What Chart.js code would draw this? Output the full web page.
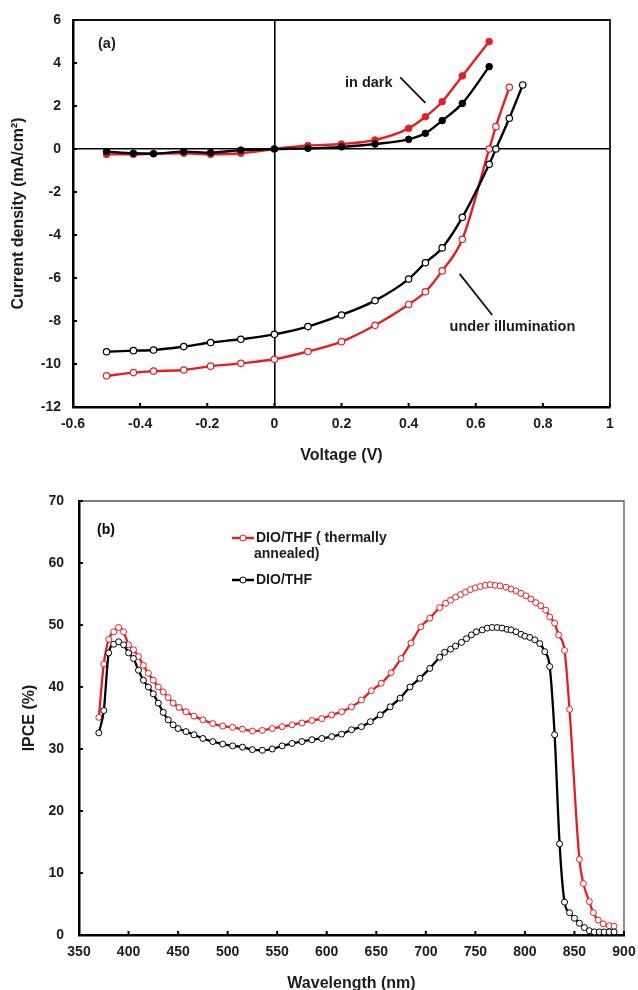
<!DOCTYPE html>
<html>
<head>
<meta charset="utf-8">
<script src="https://cdn.jsdelivr.net/npm/chart.js@4.4.1/dist/chart.umd.min.js"></script>
<style>
  html, body { margin: 0; padding: 0; background: #fff; overflow: hidden; }
  canvas { position: absolute; left: 0; }
  #jvChart { top: 0; }
  #ipceChart { top: 470px; }
</style>
</head>
<body>
<canvas id="jvChart" width="638" height="470"></canvas>
<canvas id="ipceChart" width="638" height="530"></canvas>
<script>
// ---- (a) current density vs voltage ----
const voltageDark = [-0.5, -0.42, -0.36, -0.27, -0.19, -0.1, 0, 0.1, 0.2, 0.3, 0.4, 0.45, 0.5, 0.56, 0.64];
const darkAnnealed = [-0.25, -0.25, -0.22, -0.2, -0.25, -0.2, 0, 0.16, 0.23, 0.42, 0.96, 1.5, 2.2, 3.4, 5.0];
const darkAsCast = [-0.12, -0.2, -0.22, -0.12, -0.17, -0.05, 0, 0.03, 0.1, 0.23, 0.45, 0.73, 1.32, 2.12, 3.83];

const voltageLitAnnealed = [-0.5, -0.42, -0.36, -0.27, -0.19, -0.1, 0, 0.1, 0.2, 0.3, 0.4, 0.45, 0.5, 0.56, 0.64, 0.66, 0.7];
const litAnnealed = [-10.55, -10.4, -10.33, -10.28, -10.1, -9.97, -9.78, -9.42, -8.96, -8.2, -7.23, -6.64, -5.67, -4.2, 0, 1.04, 2.87];
const voltageLitAsCast = [-0.5, -0.42, -0.36, -0.27, -0.19, -0.1, 0, 0.1, 0.2, 0.3, 0.4, 0.45, 0.5, 0.56, 0.64, 0.66, 0.7, 0.74];
const litAsCast = [-9.43, -9.38, -9.35, -9.19, -9.0, -8.85, -8.62, -8.26, -7.72, -7.05, -6.05, -5.29, -4.6, -3.18, -0.71, 0, 1.43, 2.98];

// ---- (b) IPCE spectra ----
const wlAnnealed = [370, 375, 380, 385, 390, 395, 400, 405, 410, 415, 420, 425, 430, 435, 440, 445, 451, 458, 466, 475,
  485, 495, 505, 515, 525, 535, 545, 555, 565, 575, 585, 595, 605, 615, 625, 635, 645, 655, 665, 675,
  685, 695, 704, 714, 720, 725, 730, 735, 740, 745, 750, 755, 760, 765, 770, 775, 781, 786, 791, 796,
  801, 806, 811, 816, 821, 825, 830, 834, 840, 845, 855, 859, 865, 869, 874, 879, 885, 890];
const ipceAnnealed = [35.1, 43.7, 47.7, 48.9, 49.6, 48.9, 46.8, 46.0, 44.9, 43.5, 42.2, 41.1, 40.0, 39.2, 38.3, 37.4, 36.7, 36.0, 35.3, 34.7,
  34.1, 33.7, 33.5, 33.2, 32.9, 33.0, 33.3, 33.6, 33.9, 34.2, 34.6, 34.9, 35.5, 36.0, 36.8, 37.9, 39.4, 40.6, 42.3, 44.6,
  47.1, 49.7, 51.1, 52.8, 53.5, 54.0, 54.5, 54.9, 55.3, 55.7, 56.0, 56.2, 56.4, 56.5, 56.4, 56.3, 56.1, 55.8, 55.5, 55.1,
  54.7, 54.2, 53.6, 53.1, 52.4, 51.3, 50.3, 48.4, 45.9, 36.4, 12.2, 8.3, 5.4, 3.6, 2.4, 1.8, 1.5, 1.4];

const wlAsCast = [370, 375, 380, 385, 390, 395, 400, 405, 410, 415, 420, 425, 430, 435, 440, 445, 450, 458, 466, 475,
  485, 495, 505, 515, 525, 535, 545, 555, 565, 575, 585, 595, 605, 615, 625, 635, 644, 654, 664, 674,
  684, 694, 704, 714, 719, 725, 730, 736, 741, 746, 751, 757, 762, 767, 772, 777, 782, 786, 791, 796,
  800, 805, 810, 815, 820, 825, 830, 835, 840, 845, 850, 855, 860, 865, 870, 875, 880, 885, 890];
const ipceAsCast = [32.6, 36.2, 45.5, 46.9, 47.3, 46.8, 45.5, 44.6, 42.7, 41.1, 40.0, 38.9, 37.4, 35.9, 34.7, 33.9, 33.3, 32.8, 32.3, 31.7,
  31.2, 30.8, 30.5, 30.3, 29.9, 29.8, 30.0, 30.5, 30.9, 31.2, 31.5, 31.7, 32.0, 32.4, 33.1, 33.6, 34.4, 35.5, 36.8, 38.2,
  40.0, 41.4, 43.0, 44.8, 45.6, 46.1, 46.6, 47.2, 47.8, 48.4, 48.9, 49.2, 49.5, 49.6, 49.6, 49.5, 49.3, 49.2, 48.9, 48.5,
  48.2, 48.0, 47.6, 47.0, 45.7, 43.3, 32.3, 14.7, 5.3, 3.6, 2.7, 1.9, 1.2, 0.7, 0.5, 0.5, 0.5, 0.5, 0.5];

const RED = '#e41e25';
const BLACK = '#000000';
const TEXT = '#1c1c1c';
const FONT = 'Arial, "Liberation Sans", sans-serif';

const toPoints = (xs, ys) => xs.map((x, i) => ({ x, y: ys[i] }));

// box on top/right + small inward tick marks
const frameTicks = {
  id: 'frameTicks',
  beforeDatasetsDraw(chart, args, opts) {
    const { ctx, chartArea: a, scales } = chart;
    ctx.save();
    ctx.strokeStyle = opts.boxColor;
    ctx.lineWidth = opts.boxWidth;
    ctx.beginPath();
    ctx.moveTo(a.left, a.top);
    ctx.lineTo(a.right, a.top);
    ctx.lineTo(a.right, a.bottom);
    ctx.stroke();

    ctx.strokeStyle = '#000';
    ctx.lineWidth = 2;
    ctx.beginPath();
    scales.x.ticks.forEach(t => {
      const px = scales.x.getPixelForValue(t.value);
      ctx.moveTo(px, a.bottom);
      ctx.lineTo(px, a.bottom - 4);
    });
    scales.y.ticks.forEach(t => {
      const py = scales.y.getPixelForValue(t.value);
      ctx.moveTo(a.left, py);
      ctx.lineTo(a.left + 4, py);
    });
    ctx.stroke();
    ctx.restore();
  }
};

// text labels with pointer lines for chart (a)
const jvNotes = {
  id: 'jvNotes',
  afterDraw(chart) {
    const { ctx, chartArea: a, scales: { x, y } } = chart;
    ctx.save();
    ctx.fillStyle = TEXT;
    ctx.font = 'bold 14.5px ' + FONT;
    ctx.textBaseline = 'middle';
    ctx.textAlign = 'left';
    ctx.fillText('(a)', a.left + 25, a.top + 24);

    ctx.textAlign = 'right';
    ctx.fillText('in dark', x.getPixelForValue(0.352), y.getPixelForValue(3.05));
    ctx.textAlign = 'left';
    ctx.fillText('under illumination', x.getPixelForValue(0.522), y.getPixelForValue(-8.29));

    ctx.strokeStyle = '#111';
    ctx.lineWidth = 1.8;
    ctx.beginPath();
    ctx.moveTo(x.getPixelForValue(0.375), y.getPixelForValue(3.33));
    ctx.lineTo(x.getPixelForValue(0.45), y.getPixelForValue(2.15));
    ctx.moveTo(x.getPixelForValue(0.552), y.getPixelForValue(-5.81));
    ctx.lineTo(x.getPixelForValue(0.649), y.getPixelForValue(-7.72));
    ctx.stroke();
    ctx.restore();
  }
};

// legend drawn inside the plot area for chart (b)
const ipceLegend = {
  id: 'ipceLegend',
  afterDraw(chart) {
    const { ctx, chartArea: a } = chart;
    const rows = [
      { color: RED, lines: ['DIO/THF ( thermally', 'annealed)'], y: a.top + 37 },
      { color: BLACK, lines: ['DIO/THF'], y: a.top + 79 }
    ];
    ctx.save();
    ctx.font = 'bold 14px ' + FONT;
    ctx.textBaseline = 'middle';
    ctx.textAlign = 'left';
    ctx.fillText('(b)', a.left + 18, a.top + 29);
    rows.forEach(r => {
      const x0 = a.left + 153;
      ctx.strokeStyle = r.color;
      ctx.lineWidth = 2.5;
      ctx.beginPath();
      ctx.moveTo(x0, r.y);
      ctx.lineTo(x0 + 22, r.y);
      ctx.stroke();
      ctx.fillStyle = '#fff';
      ctx.lineWidth = 1;
      ctx.beginPath();
      ctx.arc(x0 + 11, r.y, 3, 0, Math.PI * 2);
      ctx.fill();
      ctx.stroke();
      ctx.fillStyle = TEXT;
      r.lines.forEach((t, i) => ctx.fillText(t, x0 + (i === 0 ? 24 : 22), r.y + i * 16));
    });
    ctx.restore();
  }
};

const tickFont = { family: FONT, size: 14, weight: 'bold' };
const titleFont = { family: FONT, size: 16, weight: 'bold' };

const isZero = v => Math.abs(v) < 1e-9;

new Chart(document.getElementById('jvChart'), {
  type: 'line',
  data: {
    datasets: [
      {
        data: toPoints(voltageDark, darkAsCast),
        borderColor: BLACK, backgroundColor: BLACK,
        pointRadius: 3.3, pointBorderWidth: 1, borderWidth: 2.4
      },
      {
        data: toPoints(voltageDark, darkAnnealed),
        borderColor: RED, backgroundColor: RED,
        pointRadius: 3.3, pointBorderWidth: 1, borderWidth: 2.4
      },
      {
        data: toPoints(voltageLitAsCast, litAsCast),
        borderColor: BLACK, backgroundColor: '#fff',
        pointRadius: 3.2, pointBorderWidth: 1.2, borderWidth: 2.4
      },
      {
        data: toPoints(voltageLitAnnealed, litAnnealed),
        borderColor: RED, backgroundColor: '#fff',
        pointRadius: 3.2, pointBorderWidth: 1.2, borderWidth: 2.4
      }
    ]
  },
  options: {
    responsive: false,
    animation: false,
    cubicInterpolationMode: 'monotone',
    layout: { padding: { top: 20, right: 28, left: 0, bottom: 0 } },
    plugins: {
      legend: { display: false },
      tooltip: { enabled: false },
      frameTicks: { boxColor: '#111', boxWidth: 1.8 }
    },
    scales: {
      x: {
        type: 'linear', min: -0.6, max: 1,
        afterFit: s => { s.height = 63; s.paddingLeft = 0; s.paddingRight = 0; },
        ticks: { stepSize: 0.2, padding: 9, color: TEXT, font: tickFont,
          callback: v => String(Number(v.toFixed(1))) },
        grid: { drawTicks: false, lineWidth: 1.6,
          color: c => (c.tick && isZero(c.tick.value)) ? '#000' : 'rgba(0,0,0,0)' },
        border: { display: true, color: '#000', width: 2.5 },
        title: { display: true, text: 'Voltage (V)', color: TEXT, font: titleFont,
          padding: { top: 0, bottom: 5 } }
      },
      y: {
        min: -12, max: 6,
        afterFit: s => { s.width = 73; s.paddingTop = 0; s.paddingBottom = 0; },
        ticks: { stepSize: 2, padding: 12, color: TEXT, font: tickFont },
        grid: { drawTicks: false, lineWidth: 1.6,
          color: c => (c.tick && isZero(c.tick.value)) ? '#000' : 'rgba(0,0,0,0)' },
        border: { display: true, color: '#000', width: 2.5 },
        title: { display: true, text: 'Current density (mA/cm\u00b2)', color: TEXT, font: titleFont,
          padding: { top: 9, bottom: 0 } }
      }
    }
  },
  plugins: [frameTicks, jvNotes]
});

new Chart(document.getElementById('ipceChart'), {
  type: 'line',
  data: {
    datasets: [
      {
        label: 'DIO/THF',
        data: toPoints(wlAsCast, ipceAsCast),
        borderColor: BLACK, backgroundColor: '#fff',
        pointRadius: 3, pointBorderWidth: 1, borderWidth: 2.3
      },
      {
        label: 'DIO/THF ( thermally annealed)',
        data: toPoints(wlAnnealed, ipceAnnealed),
        borderColor: RED, backgroundColor: '#fff',
        pointRadius: 3, pointBorderWidth: 1, borderWidth: 2.3
      }
    ]
  },
  options: {
    responsive: false,
    animation: false,
    cubicInterpolationMode: 'monotone',
    layout: { padding: { top: 31, right: 14, left: 0, bottom: 0 } },
    plugins: {
      legend: { display: false },
      tooltip: { enabled: false },
      frameTicks: { boxColor: '#555', boxWidth: 1.3 }
    },
    scales: {
      x: {
        type: 'linear', min: 350, max: 900,
        afterFit: s => { s.height = 65; s.paddingLeft = 0; s.paddingRight = 0; },
        ticks: { stepSize: 50, padding: 9, color: TEXT, font: tickFont },
        grid: { display: false, drawTicks: false },
        border: { display: true, color: '#000', width: 2.5 },
        title: { display: true, text: 'Wavelength (nm)', color: TEXT, font: titleFont,
          padding: { top: 0, bottom: 7 } }
      },
      y: {
        min: 0, max: 70,
        afterFit: s => { s.width = 79; s.paddingTop = 0; s.paddingBottom = 0; },
        ticks: { stepSize: 10, padding: 15, color: TEXT, font: tickFont },
        grid: { display: false, drawTicks: false },
        border: { display: true, color: '#000', width: 2.5 },
        title: { display: true, text: 'IPCE (%)', color: TEXT, font: titleFont,
          padding: { top: 20, bottom: 0 } }
      }
    }
  },
  plugins: [frameTicks, ipceLegend]
});
</script>
</body>
</html>
